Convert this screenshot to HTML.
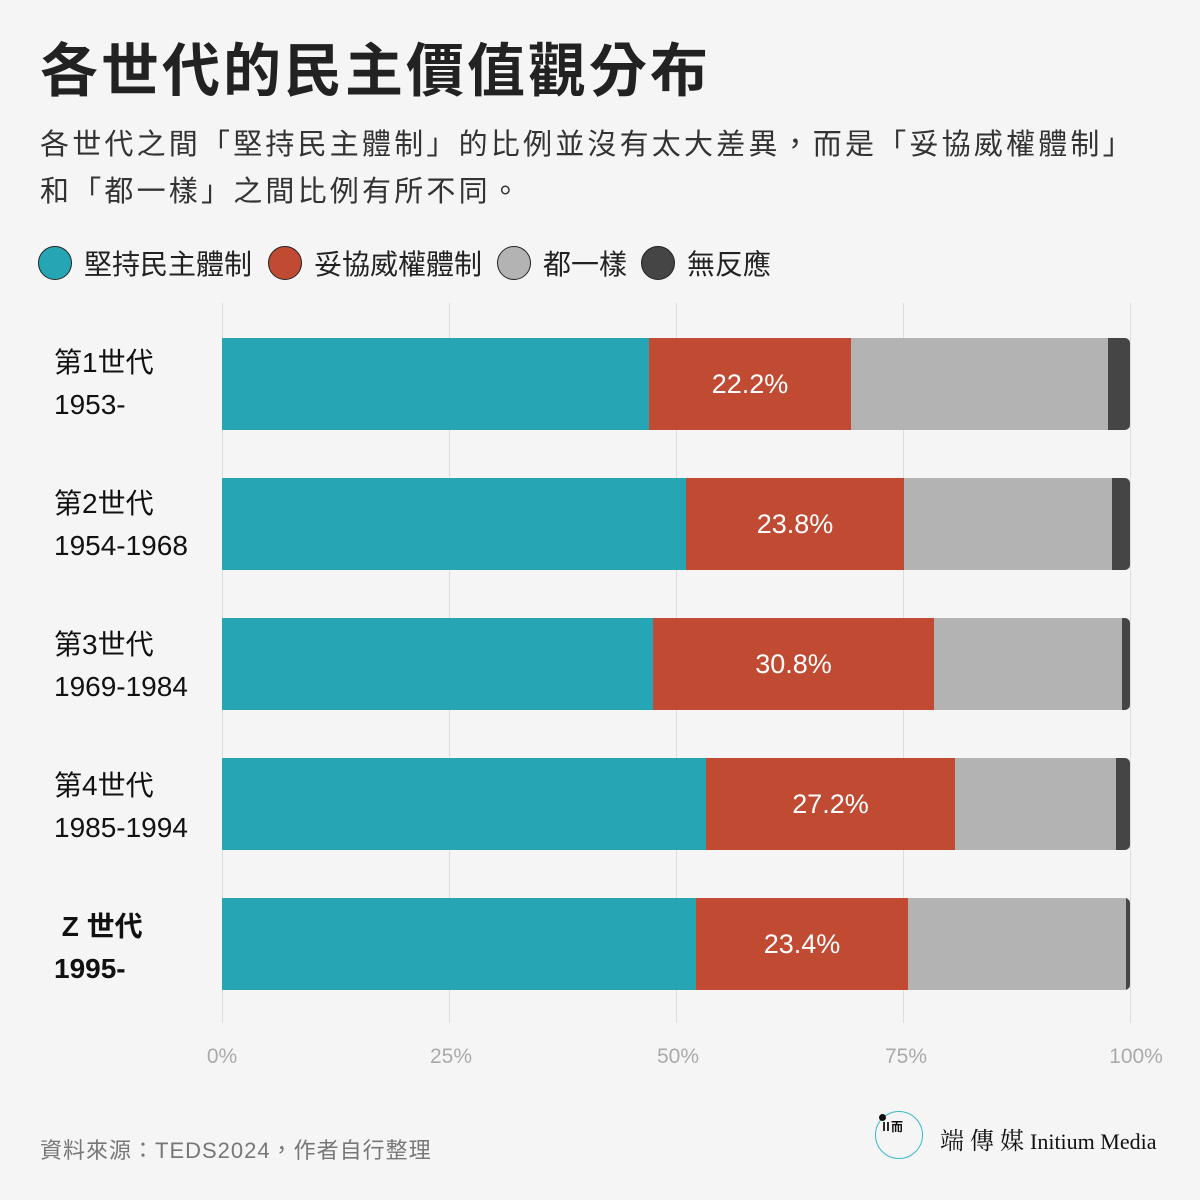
<!DOCTYPE html>
<html><head><meta charset="utf-8"><style>
body{margin:0;background:#f5f5f5;font-family:"Liberation Sans","Noto Sans CJK TC",sans-serif;}
.w{position:relative;width:1200px;height:1200px;overflow:hidden;background:#f5f5f5;}
.t{position:absolute;left:40px;top:24px;font-size:58px;font-weight:bold;color:#222;letter-spacing:3px;white-space:nowrap;}
.s{position:absolute;left:40px;top:122px;font-size:29px;color:#333;line-height:47px;white-space:nowrap;letter-spacing:3.2px;}
.lg{position:absolute;top:243px;font-size:28px;color:#222;display:flex;align-items:center;}
.lg i{display:inline-block;width:34px;height:34px;border-radius:50%;border:1px solid #222;box-sizing:border-box;margin-right:12px;}
.g{position:absolute;top:303px;width:1px;height:720px;background:#ddd;}
.b{position:absolute;left:222px;height:92px;width:908px;display:flex;border-radius:0 5px 5px 0;overflow:hidden;}
.b div{height:100%;}
.b .r{display:flex;align-items:center;justify-content:center;color:#fff;font-size:27px;}
.yl{position:absolute;left:54px;font-size:28px;color:#111;line-height:42px;}
.x{position:absolute;top:1045px;font-size:21px;color:#aaa;transform:translateX(-50%);}
</style></head><body><div class="w">
<div class="t">各世代的民主價值觀分布</div>
<div class="s">各世代之間「堅持民主體制」的比例並沒有太大差異，而是「妥協威權體制」<br>和「都一樣」之間比例有所不同。</div>
<div class="lg" style="left:38px"><i style="background:#26a6b5"></i>堅持民主體制</div>
<div class="lg" style="left:268px"><i style="background:#c14a33"></i>妥協威權體制</div>
<div class="lg" style="left:497px"><i style="background:#b3b3b3"></i>都一樣</div>
<div class="lg" style="left:641px"><i style="background:#454545"></i>無反應</div>
<div class="g" style="left:222px"></div><div class="g" style="left:449px"></div><div class="g" style="left:676px"></div><div class="g" style="left:903px"></div><div class="g" style="left:1130px"></div>

<div class="b" style="top:338px"><div style="width:427px;background:#26a6b5"></div><div class="r" style="width:202px;background:#c14a33">22.2%</div><div style="width:257px;background:#b3b3b3"></div><div style="flex:1;background:#454545"></div></div>
<div class="b" style="top:478px"><div style="width:464px;background:#26a6b5"></div><div class="r" style="width:218px;background:#c14a33">23.8%</div><div style="width:208px;background:#b3b3b3"></div><div style="flex:1;background:#454545"></div></div>
<div class="b" style="top:618px"><div style="width:431px;background:#26a6b5"></div><div class="r" style="width:281px;background:#c14a33">30.8%</div><div style="width:188px;background:#b3b3b3"></div><div style="flex:1;background:#454545"></div></div>
<div class="b" style="top:758px"><div style="width:484px;background:#26a6b5"></div><div class="r" style="width:249px;background:#c14a33">27.2%</div><div style="width:161px;background:#b3b3b3"></div><div style="flex:1;background:#454545"></div></div>
<div class="b" style="top:898px"><div style="width:474px;background:#26a6b5"></div><div class="r" style="width:212px;background:#c14a33">23.4%</div><div style="width:218px;background:#b3b3b3"></div><div style="flex:1;background:#454545"></div></div>

<div class="yl" style="top:342px">第1世代<br>1953-</div>
<div class="yl" style="top:483px">第2世代<br>1954-1968</div>
<div class="yl" style="top:624px">第3世代<br>1969-1984</div>
<div class="yl" style="top:765px">第4世代<br>1985-1994</div>
<div class="yl" style="top:906px;font-weight:bold">&nbsp;Z 世代<br>1995-</div>

<div class="x" style="left:222px">0%</div><div class="x" style="left:451px">25%</div><div class="x" style="left:678px">50%</div><div class="x" style="left:906px">75%</div><div class="x" style="left:1136px">100%</div>

<div style="position:absolute;left:40px;top:1133px;font-size:22px;color:#777;letter-spacing:1px">資料來源：TEDS2024，作者自行整理</div>
<div style="position:absolute;left:875px;top:1111px;width:48px;height:48px;border:1.5px solid #3bb8c6;border-radius:50%;box-sizing:border-box"></div>
<div style="position:absolute;left:879px;top:1114px;width:7px;height:7px;border-radius:50%;background:#111"></div>
<div style="position:absolute;left:880px;top:1118px;font-size:12px;font-weight:bold;color:#111;letter-spacing:-1px">Ⅱ而</div>
<div style="position:absolute;left:940px;top:1121px;font-size:24px;color:#111;font-family:'Liberation Serif','Noto Serif CJK SC',serif;white-space:nowrap">端 傳 媒 <span style="font-size:22px">Initium Media</span></div>
</div></body></html>
